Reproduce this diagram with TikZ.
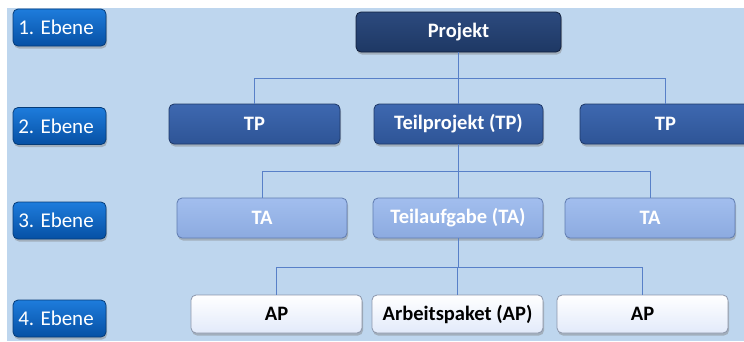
\documentclass[tikz,border=0pt]{standalone}
\usepackage{fontspec}
\setmainfont{Carlito}
\usetikzlibrary{shadows}

\definecolor{bgblue}{RGB}{190,214,238}
\definecolor{lvltop}{RGB}{30,124,220}
\definecolor{lvlbot}{RGB}{6,80,164}
\definecolor{lvlline}{RGB}{6,60,120}
\definecolor{pjtop}{RGB}{44,74,126}
\definecolor{pjbot}{RGB}{30,56,100}
\definecolor{pjline}{RGB}{18,32,60}
\definecolor{tptop}{RGB}{62,104,176}
\definecolor{tpbot}{RGB}{46,84,150}
\definecolor{tpline}{RGB}{30,56,104}
\definecolor{tatop}{RGB}{162,190,238}
\definecolor{tabot}{RGB}{140,170,224}
\definecolor{taline}{RGB}{96,124,176}
\definecolor{aptop}{RGB}{255,255,255}
\definecolor{apbot}{RGB}{226,234,250}
\definecolor{apline}{RGB}{140,150,170}
\definecolor{connblue}{RGB}{88,128,200}

\tikzset{
  box/.style={rounded corners=5pt, line width=0.8pt, inner sep=0pt,
    font=\fontsize{20.5}{24}\selectfont\bfseries, align=center,
    drop shadow={shadow xshift=1pt, shadow yshift=-2.5pt, opacity=0.45}},
  lvlbox/.style={box, minimum width=93pt, minimum height=37pt,
    top color=lvltop, bottom color=lvlbot, draw=lvlline, text=white,
    font=\fontsize{21}{24}\selectfont\mdseries},
  pjbox/.style={box, minimum width=205pt, minimum height=40pt,
    top color=pjtop, bottom color=pjbot, draw=pjline, text=white},
  tpbox/.style={box, minimum width=170pt, minimum height=40pt,
    top color=tptop, bottom color=tpbot, draw=tpline, text=white},
  tabox/.style={box, minimum width=170pt, minimum height=40pt,
    top color=tatop, bottom color=tabot, draw=taline, text=white},
  apbox/.style={box, minimum width=171pt, minimum height=38pt,
    top color=aptop, bottom color=apbot, draw=apline, text=black},
  conn/.style={draw=connblue, line width=0.8pt}
}
% level label text sits a little left of the box centre
\newcommand{\lvltext}[1]{#1\hspace*{7pt}}

\begin{document}
\begin{tikzpicture}[x=1pt, y=-1pt]
  \useasboundingbox (0,0) rectangle (744,341);
  \clip (0,0) rectangle (744,341);
  \fill[bgblue] (7,8) rectangle (744,341);

  % level labels
  \node[lvlbox] (e1) at (59.5,27.5) {\lvltext{1. Ebene}};
  \node[lvlbox] (e2) at (59.5,126) {\lvltext{2. Ebene}};
  \node[lvlbox] (e3) at (59.5,220.5) {\lvltext{3. Ebene}};
  \node[lvlbox] (e4) at (59.5,318.5) {\lvltext{4. Ebene}};

  % bus heights between the levels
  \coordinate (b1) at (0,78);
  \coordinate (b2) at (0,171);
  \coordinate (b3) at (0,267);

  % level 1
  \node[pjbox] (pj) at (458.5,32) {Projekt};

  % level 2
  \node[tpbox, minimum width=171pt] (tp1) at (254.5,124) {TP};
  \node[tpbox, minimum width=169pt] (tp) at (458.5,124) {Teilprojekt (TP)};
  \node[tpbox, minimum width=171pt] (tp2) at (665.5,124) {TP};

  % level 3
  \node[tabox] (ta1) at (262,218) {TA};
  \node[tabox] (ta) at (458,218) {Teilaufgabe (TA)};
  \node[tabox] (ta2) at (650,218) {TA};

  % level 4
  \node[apbox] (ap1) at (276.5,314) {AP};
  \node[apbox] (ap) at (457.5,314) {Arbeitspaket (AP)};
  \node[apbox] (ap2) at (642.5,314) {AP};

  % connectors
  \draw[conn] (pj.south) -- (pj.south |- b1);
  \draw[conn] (tp1.north) -- (tp1.north |- b1) -- (tp2.north |- b1) -- (tp2.north);
  \draw[conn] (tp.north) -- (tp.north |- b1);

  \draw[conn] (tp.south) -- (tp.south |- b2);
  \draw[conn] (ta1.north) -- (ta1.north |- b2) -- (ta2.north |- b2) -- (ta2.north);
  \draw[conn] (ta.north) -- (ta.north |- b2);

  \draw[conn] (ta.south) -- (ta.south |- b3);
  \draw[conn] (ap1.north) -- (ap1.north |- b3) -- (ap2.north |- b3) -- (ap2.north);
  \draw[conn] (ap.north) -- (ap.north |- b3);
\end{tikzpicture}
\end{document}
